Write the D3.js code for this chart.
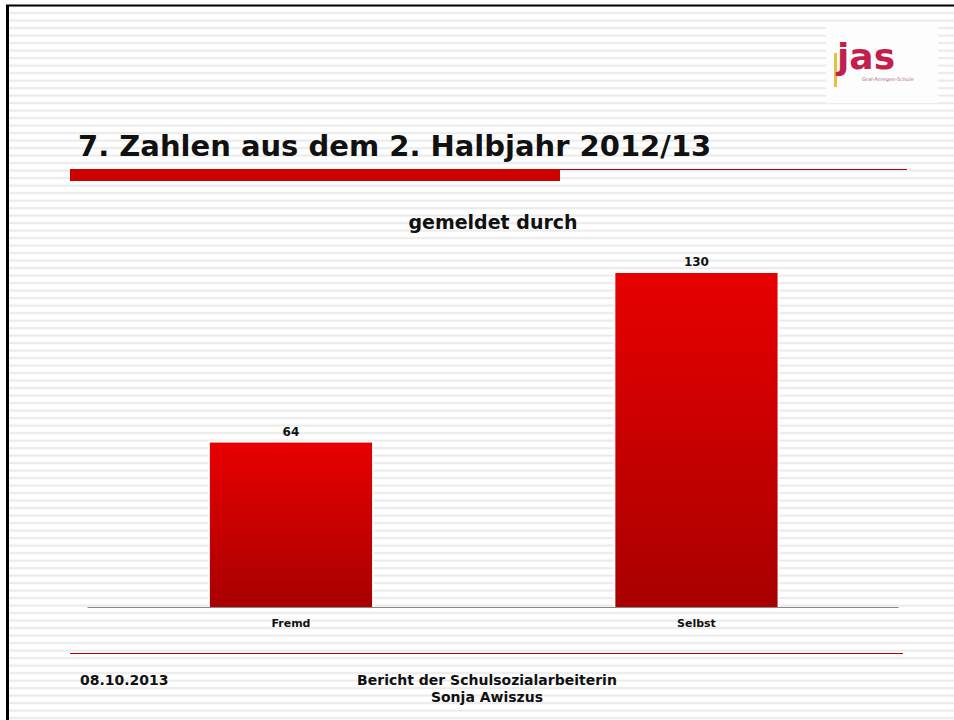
<!DOCTYPE html>
<html>
<head>
<meta charset="utf-8">
<script src="https://cdn.jsdelivr.net/npm/d3@7"></script>
<style>
  html, body { margin: 0; padding: 0; background: #fff; }
  svg { display: block; }
</style>
</head>
<body>
<svg id="chart" width="954" height="720"></svg>
<script>
// chart data
const categories = ["Fremd", "Selbst"];
const values = [64, 130];
const chartTitle = "gemeldet durch";
const slideTitle = "7. Zahlen aus dem 2. Halbjahr 2012/13";
const footerDate = "08.10.2013";
const footerLines = ["Bericht der Schulsozialarbeiterin", "Sonja Awiszus"];

const svg = d3.select("#chart");
const font = "Tahoma, 'DejaVu Sans', Verdana, sans-serif";

const defs = svg.append("defs");

// striped slide background
const pat = defs.append("pattern")
  .attr("id", "stripes")
  .attr("patternUnits", "userSpaceOnUse")
  .attr("width", 10)
  .attr("height", 7.5);
pat.append("rect").attr("width", 10).attr("height", 7.5).attr("fill", "#ffffff");
pat.append("rect").attr("y", 4.5).attr("width", 10).attr("height", 2.2).attr("fill", "#ebebeb");

const grad = defs.append("linearGradient")
  .attr("id", "barGrad")
  .attr("x1", 0).attr("y1", 0).attr("x2", 0).attr("y2", 1);
grad.append("stop").attr("offset", "0%").attr("stop-color", "#e80000");
grad.append("stop").attr("offset", "100%").attr("stop-color", "#a80000");

svg.append("rect").attr("width", 954).attr("height", 720).attr("fill", "white");
svg.append("rect")
  .attr("x", 8).attr("y", 6)
  .attr("width", 946).attr("height", 714)
  .attr("fill", "url(#stripes)");

// frame
svg.append("line").attr("x1", 7.5).attr("x2", 7.5).attr("y1", 5).attr("y2", 720)
  .attr("stroke", "#000").attr("stroke-width", 3);
svg.append("line").attr("x1", 6).attr("x2", 954).attr("y1", 5.5).attr("y2", 5.5)
  .attr("stroke", "#000").attr("stroke-width", 2);

// logo
const logo = svg.append("g").attr("transform", "translate(826,23)");
logo.append("rect").attr("width", 112).attr("height", 80).attr("fill", "#fdfdfd");
logo.append("rect").attr("x", 8).attr("y", 30).attr("width", 3).attr("height", 34)
  .attr("fill", "#e8c040");
logo.append("text").attr("x", 11).attr("y", 46)
  .attr("font-family", font).attr("font-weight", "bold").attr("font-size", 36)
  .attr("fill", "#c41e4a").text("jas");
logo.append("text").attr("x", 36).attr("y", 58)
  .attr("font-family", font).attr("font-size", 5)
  .attr("fill", "#b07080").text("Graf-Anregen-Schule");

// slide title
svg.append("text")
  .attr("x", 78).attr("y", 156)
  .attr("font-family", font).attr("font-weight", "bold").attr("font-size", 29)
  .attr("fill", "#111").text(slideTitle);

svg.append("rect").attr("x", 70).attr("y", 169).attr("width", 490).attr("height", 12)
  .attr("fill", "#cc0000");
svg.append("line").attr("x1", 560).attr("x2", 907).attr("y1", 169.5).attr("y2", 169.5)
  .attr("stroke", "#c00000").attr("stroke-width", 1);

// chart
const margin = { left: 87, right: 898, top: 273, bottom: 607 };
const x = d3.scaleBand()
  .domain(categories)
  .range([margin.left, margin.right])
  .paddingInner(0.6)
  .paddingOuter(0.3)
  .align(0.505);
const y = d3.scaleLinear()
  .domain([0, d3.max(values)])
  .range([margin.bottom, margin.top]);

svg.append("text")
  .attr("x", 493).attr("y", 229)
  .attr("text-anchor", "middle")
  .attr("font-family", font).attr("font-weight", "bold").attr("font-size", 19)
  .attr("fill", "#111").text(chartTitle);

const data = categories.map((c, i) => ({ cat: c, val: values[i] }));

svg.append("g").selectAll("rect")
  .data(data)
  .join("rect")
  .attr("x", d => x(d.cat) - 2)
  .attr("y", d => y(d.val) - 2)
  .attr("width", x.bandwidth() + 4)
  .attr("height", d => y(0) - y(d.val) + 2)
  .attr("fill", "#ffffff")
  .attr("opacity", 0.7);

svg.append("g").selectAll("rect")
  .data(data)
  .join("rect")
  .attr("x", d => x(d.cat))
  .attr("y", d => y(d.val))
  .attr("width", x.bandwidth())
  .attr("height", d => y(0) - y(d.val))
  .attr("fill", "url(#barGrad)");

svg.append("g").selectAll("text")
  .data(data)
  .join("text")
  .attr("x", d => x(d.cat) + x.bandwidth() / 2)
  .attr("y", d => y(d.val) - 7)
  .attr("text-anchor", "middle")
  .attr("font-family", font).attr("font-size", 12).attr("font-weight", 600)
  .attr("fill", "#111")
  .text(d => d.val);

const xAxis = svg.append("g")
  .attr("transform", `translate(0,${margin.bottom})`)
  .call(d3.axisBottom(x).tickSize(0).tickPadding(12));
xAxis.select(".domain").attr("stroke", "#888").attr("stroke-width", 1.2);
xAxis.selectAll("text")
  .attr("font-family", font).attr("font-size", 11).attr("font-weight", 600)
  .attr("fill", "#111");

// footer
svg.append("line").attr("x1", 70).attr("x2", 903).attr("y1", 653.5).attr("y2", 653.5)
  .attr("stroke", "#c00000").attr("stroke-width", 1);
svg.append("text").attr("x", 80).attr("y", 685)
  .attr("font-family", font).attr("font-size", 14).attr("font-weight", "bold")
  .attr("fill", "#111").text(footerDate);
svg.append("g").selectAll("text")
  .data(footerLines)
  .join("text")
  .attr("x", 487).attr("y", (d, i) => 685 + i * 17)
  .attr("text-anchor", "middle")
  .attr("font-family", font).attr("font-size", 14).attr("font-weight", "bold")
  .attr("fill", "#111").text(d => d);
</script>
</body>
</html>
